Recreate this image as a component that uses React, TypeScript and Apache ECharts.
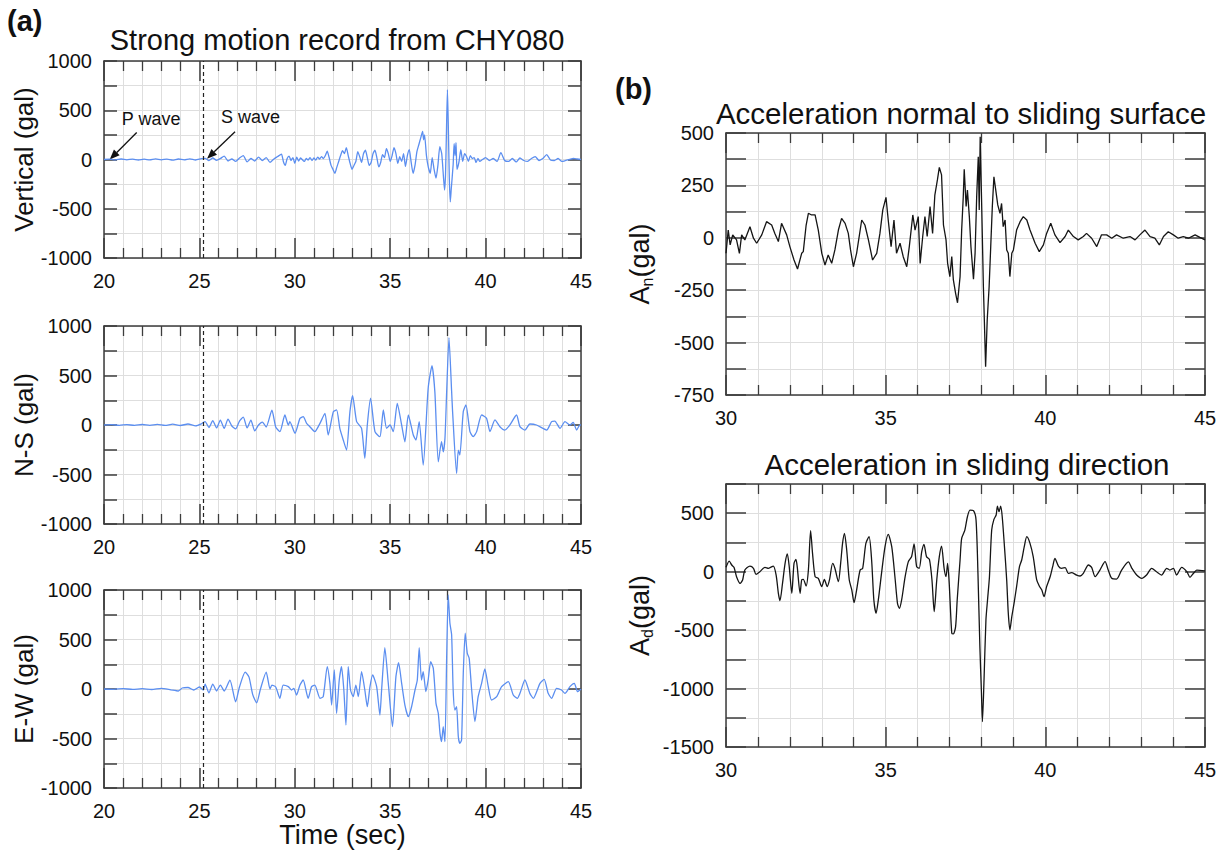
import React, { useEffect, useRef } from "react";
import * as echarts from "echarts";

// ---------- DATA ----------
const leftXRange = [20, 45];
const rightXRange = [30, 45];
const sWaveTime = 25.2;
const pArrowAt = [20.3, 0];
const sArrowAt = [25.4, 8];

const verticalTrace = [
  [20.0, 0], [20.3, 3], [20.6, -4], [20.9, 5], [21.2, -3], [21.5, 4], [21.8, -5], [22.1, 3], [22.4, -4], [22.7, 6],
  [23.0, -3], [23.3, 4], [23.6, -6], [23.9, 5], [24.2, -4], [24.5, 6], [24.8, -5], [25.1, 8], [25.3, 12], [25.5, -10],
  [25.7, 15], [25.9, -8], [26.1, 10], [26.3, 35], [26.5, -15], [26.7, 5], [26.9, -20], [27.1, 15], [27.3, 40], [27.5, -25],
  [27.7, 10], [27.9, -15], [28.1, 25], [28.3, -10], [28.5, 20], [28.7, -30], [28.9, 5], [29.1, 30], [29.3, 55], [29.4, -20],
  [29.5, -60], [29.6, 10], [29.7, 35], [29.8, -10], [29.9, 20], [30.0, -40], [30.1, 25], [30.2, -15], [30.3, 15], [30.5, -20],
  [30.6, 10], [30.7, -5], [30.8, 20], [30.9, -10], [31.0, 15], [31.1, -5], [31.2, 25], [31.3, 5], [31.4, 30], [31.5, 10],
  [31.6, 40], [31.7, 85], [31.8, 20], [31.9, -60], [32.0, -100], [32.1, -140], [32.2, -80], [32.3, -20], [32.4, 40], [32.5, 90],
  [32.6, 60], [32.7, 120], [32.8, 40], [32.9, -40], [33.0, -100], [33.1, -60], [33.2, -20], [33.3, 80], [33.4, 30], [33.5, -30],
  [33.6, 60], [33.7, 95], [33.8, 20], [33.9, -60], [34.0, -30], [34.1, 60], [34.2, 95], [34.3, 20], [34.4, -75], [34.5, -30],
  [34.6, 50], [34.7, 20], [34.8, 110], [34.9, 60], [35.0, -20], [35.1, 40], [35.2, 120], [35.3, 60], [35.4, -40], [35.5, 30],
  [35.6, -20], [35.7, 60], [35.8, -70], [35.9, 40], [36.0, 100], [36.1, -30], [36.2, -140], [36.3, -60], [36.4, 80], [36.5, 150],
  [36.6, 220], [36.7, 285], [36.75, 200], [36.8, 250], [36.9, 40], [37.0, -80], [37.1, -140], [37.2, 20], [37.3, -100], [37.4, -190],
  [37.5, -60], [37.6, 130], [37.7, 60], [37.8, -200], [37.85, -310], [37.9, -150], [37.95, 300], [38.0, 710], [38.05, 300], [38.1, -200],
  [38.15, -430], [38.2, -300], [38.3, -50], [38.35, 160], [38.4, 40], [38.45, 170], [38.5, -100], [38.6, -30], [38.7, 100], [38.8, -20],
  [38.9, 60], [39.0, 30], [39.1, -20], [39.2, 40], [39.3, 10], [39.4, 20], [39.5, -30], [39.6, 10], [39.7, -20], [39.8, -5],
  [40.0, 20], [40.2, -10], [40.4, 10], [40.6, -20], [40.8, 70], [41.0, -10], [41.2, -20], [41.4, 10], [41.6, -25], [41.8, 15],
  [42.0, -10], [42.2, -20], [42.4, 10], [42.6, 30], [42.8, -10], [43.0, 10], [43.2, 50], [43.4, -5], [43.6, -10], [43.8, 10],
  [44.0, -20], [44.2, -10], [44.4, 0], [44.6, 10], [44.8, 5], [45.0, 0],
];

const northSouthTrace = [
  [20.0, 0], [20.4, 3], [20.8, -3], [21.2, 4], [21.6, -4], [22.0, 5], [22.4, -3], [22.8, 6], [23.2, -4], [23.6, 8],
  [24.0, -5], [24.4, 10], [24.8, -8], [25.1, 12], [25.3, 35], [25.5, -25], [25.7, 45], [25.9, -30], [26.1, 50], [26.3, -35],
  [26.5, 60], [26.7, -10], [26.9, -40], [27.1, 40], [27.3, 80], [27.5, -30], [27.7, 50], [27.9, -60], [28.1, 0], [28.3, 30],
  [28.5, -20], [28.8, 150], [29.0, -20], [29.22, -67], [29.48, 101], [29.66, 0], [29.74, 34], [30.01, -84], [30.27, 67], [30.44, 84],
  [30.62, 17], [30.79, -17], [31.05, -67], [31.32, 17], [31.58, 118], [31.75, -101], [32.02, 135], [32.19, 152], [32.36, -34], [32.54, -152],
  [32.71, -253], [32.89, 135], [33.03, 297], [33.24, 34], [33.5, -34], [33.67, -337], [33.8, 0], [33.97, 270], [34.2, -67], [34.46, -118],
  [34.55, 0], [34.64, 152], [34.81, -34], [34.99, 0], [35.16, -67], [35.37, 219], [35.6, 0], [35.77, -169], [35.95, 101], [36.21, -101],
  [36.35, -152], [36.52, 34], [36.73, -404], [36.99, 371], [37.19, 600], [37.34, 337], [37.52, -371], [37.69, -169], [37.78, -270], [37.87, -135],
  [37.96, 337], [38.08, 883], [38.22, 337], [38.27, 135], [38.48, -489], [38.57, -253], [38.65, -303], [38.83, 135], [38.97, 202], [39.18, -67],
  [39.35, -118], [39.53, -67], [39.79, 101], [40.05, 67], [40.23, -67], [40.49, 51], [40.75, -17], [41.01, -51], [41.27, 0], [41.62, 101],
  [41.8, -17], [42.06, -51], [42.32, 10], [42.67, 0], [43.2, -51], [43.46, 34], [43.63, 40], [43.9, -34], [44.16, 34], [44.42, 0],
  [44.59, 27], [44.77, -51], [44.94, 0], [45.0, 0],
];

const eastWestTrace = [
  [20.0, 0], [20.5, -3], [21.0, 4], [21.5, -4], [22.0, 3], [22.5, -5], [23.0, 6], [23.5, -8], [23.9, -20], [24.1, 10],
  [24.4, 15], [24.7, -10], [25.0, 20], [25.2, -10], [25.3, 50], [25.5, -40], [25.7, 50], [25.9, -20], [26.1, 40], [26.3, -20],
  [26.6, 90], [26.9, -130], [27.1, 20], [27.4, 170], [27.6, 120], [27.8, -60], [28.0, -140], [28.2, 0], [28.5, 170], [28.7, 0],
  [28.8, 40], [29.0, 20], [29.22, -94], [29.39, 40], [29.66, 24], [29.83, -10], [29.95, 7], [30.09, -61], [30.27, 40], [30.44, 91],
  [30.7, -94], [30.88, 24], [31.05, 40], [31.32, -94], [31.49, -78], [31.7, 226], [31.84, 57], [31.93, -162], [32.07, 192], [32.19, -246],
  [32.33, 91], [32.45, 226], [32.57, -10], [32.68, -364], [32.8, 226], [32.92, -10], [33.06, -78], [33.2, 40], [33.33, -78], [33.5, 175],
  [33.67, -10], [33.8, -179], [33.94, 24], [34.08, 142], [34.29, 24], [34.46, -263], [34.55, -10], [34.72, 418], [34.9, 57], [35.12, -381],
  [35.3, 125], [35.44, 266], [35.6, 57], [35.77, -162], [35.95, -280], [36.12, -179], [36.3, -10], [36.42, 91], [36.52, 418], [36.64, 91],
  [36.73, 175], [36.87, -27], [36.99, 91], [37.12, 276], [37.26, 209], [37.4, -145], [37.52, -246], [37.61, -448], [37.69, -532], [37.78, -381],
  [37.87, -532], [37.96, 327], [38.04, 950], [38.13, 664], [38.22, 546], [38.3, -10], [38.39, -212], [38.48, -179], [38.57, -482], [38.65, -549],
  [38.74, -516], [38.83, 158], [38.93, 563], [39.04, 361], [39.14, 310], [39.27, -10], [39.44, -330], [39.61, -78], [39.79, 57], [39.96, 202],
  [40.14, 24], [40.31, -111], [40.58, -78], [40.84, 24], [41.19, 74], [41.45, -61], [41.66, -94], [41.8, -44], [42.06, 91], [42.32, -44],
  [42.5, -94], [42.85, 57], [43.07, 98], [43.28, -44], [43.46, -94], [43.72, 7], [43.98, -10], [44.16, -44], [44.42, 24], [44.65, 57],
  [44.82, -27], [44.94, -10], [45.0, 0],
];

const normalTrace = [
  [30.0, -74], [30.07, 37], [30.13, -34], [30.21, 14], [30.33, -10], [30.42, -74], [30.49, 14], [30.59, -10], [30.75, 53], [30.86, -2],
  [30.96, -26], [31.12, 14], [31.27, 77], [31.43, 61], [31.53, 21], [31.64, -18], [31.74, 69], [31.9, 14], [32.0, -42], [32.13, -106],
  [32.24, -149], [32.37, -74], [32.42, -66], [32.51, 61], [32.58, 117], [32.68, 109], [32.79, 109], [32.89, 37], [33.0, -74], [33.1, -130],
  [33.2, -82], [33.31, -122], [33.41, -58], [33.52, 37], [33.62, 93], [33.73, 69], [33.83, 21], [33.9, -58], [33.99, -138], [34.09, -74],
  [34.25, 85], [34.35, 61], [34.46, -10], [34.59, -106], [34.72, -74], [34.82, 21], [34.91, 133], [35.01, 193], [35.08, 85], [35.17, -42],
  [35.26, 85], [35.34, -74], [35.45, -26], [35.55, -90], [35.66, -138], [35.74, -42], [35.85, 109], [35.92, 37], [36.02, 101], [36.08, -122],
  [36.16, 6], [36.23, 101], [36.3, 6], [36.39, 149], [36.47, 21], [36.54, 204], [36.62, 276], [36.68, 336], [36.75, 300], [36.81, 61],
  [36.89, -10], [36.94, -122], [37.01, -185], [37.07, -90], [37.12, -201], [37.19, -265], [37.25, -310], [37.33, -185], [37.38, 37], [37.43, 196],
  [37.46, 327], [37.52, 149], [37.56, 228], [37.62, 101], [37.67, -42], [37.75, -198], [37.8, -74], [37.85, 196], [37.9, 387], [37.93, 133],
  [37.96, 482], [38.01, 133], [38.06, -233], [38.09, -392], [38.13, -615], [38.18, -392], [38.24, -233], [38.29, -42], [38.34, 149], [38.39, 291],
  [38.44, 236], [38.51, 157], [38.58, 117], [38.63, 164], [38.68, 53], [38.74, 85], [38.79, -58], [38.84, -74], [38.89, -185], [38.95, -74],
  [39.0, -58], [39.1, 37], [39.21, 77], [39.31, 101], [39.42, 85], [39.52, 37], [39.68, -26], [39.81, -66], [39.94, -34], [40.04, 21],
  [40.17, 69], [40.3, 14], [40.46, -23], [40.62, 6], [40.72, 37], [40.88, 6], [41.03, -10], [41.19, 6], [41.29, 21], [41.45, -2],
  [41.61, -42], [41.76, 14], [41.92, 14], [42.08, -2], [42.23, 14], [42.44, -2], [42.65, 6], [42.81, -10], [42.96, 14], [43.12, 37],
  [43.28, 6], [43.43, -2], [43.57, -34], [43.7, 6], [43.85, 29], [44.01, 14], [44.16, -2], [44.32, 6], [44.48, -2], [44.69, 14],
  [44.84, 2], [45.0, -10],
];

const slidingTrace = [
  [30.0, 37], [30.1, 91], [30.18, 57], [30.25, 37], [30.33, -43], [30.44, -100], [30.52, -71], [30.59, 14], [30.75, 48], [30.86, 29],
  [30.94, -23], [31.06, 0], [31.22, 37], [31.33, 29], [31.48, 48], [31.57, -29], [31.64, -185], [31.69, -248], [31.77, -100], [31.85, 71],
  [31.92, 151], [31.98, 43], [32.06, -185], [32.13, 71], [32.19, 105], [32.23, 43], [32.32, -185], [32.37, -71], [32.42, -66], [32.51, -123],
  [32.58, 14], [32.65, 351], [32.71, 157], [32.79, -43], [32.89, -57], [33.0, -128], [33.08, -66], [33.17, -128], [33.24, -71], [33.34, 71],
  [33.41, 29], [33.52, -86], [33.59, 71], [33.65, 242], [33.71, 328], [33.78, 185], [33.86, -71], [33.94, -157], [34.01, -265], [34.09, -157],
  [34.2, 14], [34.28, 29], [34.38, 242], [34.48, 299], [34.56, 100], [34.63, -242], [34.7, -356], [34.77, -242], [34.87, -14], [34.98, 214],
  [35.08, 319], [35.19, 214], [35.29, -43], [35.37, -271], [35.43, -314], [35.5, -242], [35.61, -43], [35.71, 86], [35.81, 128], [35.89, 237],
  [35.97, 43], [36.05, 29], [36.13, 171], [36.2, 234], [36.28, 128], [36.37, 105], [36.45, -71], [36.52, -342], [36.6, -71], [36.68, 128],
  [36.75, 219], [36.83, 29], [36.89, -43], [36.94, 71], [36.99, -100], [37.07, -527], [37.12, -533], [37.19, -470], [37.24, -242], [37.33, 100],
  [37.38, 285], [37.48, 356], [37.56, 470], [37.64, 527], [37.75, 522], [37.83, 442], [37.89, -14], [37.95, -641], [38.0, -1040], [38.03, -1283],
  [38.08, -926], [38.14, -413], [38.19, -242], [38.25, -43], [38.32, 356], [38.39, 447], [38.46, 485], [38.5, 561], [38.55, 513], [38.6, 561],
  [38.65, 470], [38.72, 214], [38.79, -71], [38.84, -356], [38.89, -499], [38.95, -385], [39.02, -271], [39.1, -128], [39.19, 43], [39.26, 100],
  [39.34, 214], [39.42, 299], [39.52, 242], [39.62, 128], [39.73, -71], [39.81, -123], [39.89, -157], [39.96, -214], [40.04, -128], [40.15, -43],
  [40.23, 43], [40.3, 114], [40.41, 48], [40.51, 29], [40.62, 34], [40.72, -14], [40.82, -9], [40.98, -29], [41.09, -37], [41.19, -14],
  [41.35, 57], [41.45, 37], [41.56, -43], [41.71, 14], [41.87, 86], [41.97, 14], [42.08, -57], [42.23, -63], [42.39, 14], [42.6, 83],
  [42.71, 29], [42.86, -29], [43.02, -57], [43.17, -29], [43.33, 29], [43.48, 0], [43.64, -29], [43.8, 29], [43.9, 14], [44.01, 29],
  [44.11, -29], [44.27, 37], [44.43, 0], [44.53, -48], [44.64, -14], [44.74, 14], [45.0, 6],
];

// ---------- STYLE / LAYOUT ----------
const FONT = "'Liberation Sans', Arial, Helvetica, sans-serif";
const FRAME = "#3c3c3c";
const GRIDC = "#dedede";
const BLUE = "#5b8ef0";
const BLACK = "#151515";

const grids = [
  { left: 104, top: 61, width: 477, height: 197 },
  { left: 104, top: 326, width: 477, height: 198 },
  { left: 104, top: 590, width: 477, height: 198 },
  { left: 726, top: 133, width: 479, height: 262 },
  { left: 726, top: 484, width: 479, height: 263 },
];

function xPair(gridIndex: number, range: number[], extra: any = {}) {
  const common = {
    type: "value",
    gridIndex,
    min: range[0],
    max: range[1],
    interval: 5,
    axisLine: { onZero: false, lineStyle: { color: FRAME, width: 1.5 } },
    axisTick: { inside: true, length: 20, lineStyle: { color: FRAME, width: 1.5 } },
    minorTick: { show: true, splitNumber: 5, length: 10, lineStyle: { color: FRAME, width: 1.3 } },
  };
  return [
    {
      ...common,
      position: "bottom",
      splitLine: { show: true, lineStyle: { color: GRIDC, width: 1 } },
      minorSplitLine: { show: true, lineStyle: { color: GRIDC, width: 1 } },
      axisLabel: { margin: 13, fontSize: 20, color: "#111", fontFamily: FONT },
      ...extra,
    },
    {
      ...common,
      position: "top",
      splitLine: { show: false },
      minorSplitLine: { show: false },
      axisLabel: { show: false },
    },
  ];
}

function yPair(gridIndex: number, min: number, max: number, interval: number, labelStep: number, tickLen: number, name: any, nameStyle: any, nameGap: number) {
  const common = {
    type: "value",
    gridIndex,
    min,
    max,
    interval,
    axisLine: { onZero: false, lineStyle: { color: FRAME, width: 1.5 } },
    axisTick: { inside: true, length: tickLen, lineStyle: { color: FRAME, width: 1.5 } },
  };
  return [
    {
      ...common,
      position: "left",
      splitLine: { show: true, lineStyle: { color: GRIDC, width: 1 } },
      axisLabel: {
        margin: 12,
        fontSize: 20,
        color: "#111",
        fontFamily: FONT,
        formatter: (v: number) => (Math.abs(v % labelStep) < 1e-6 ? String(v) : ""),
      },
      name,
      nameLocation: "middle",
      nameGap,
      nameTextStyle: nameStyle,
    },
    {
      ...common,
      position: "right",
      splitLine: { show: false },
      axisLabel: { show: false },
    },
  ];
}

const leftName = { fontSize: 26, color: "#111", fontFamily: FONT };
const richName = {
  color: "#111",
  fontFamily: FONT,
  rich: {
    a: { fontSize: 27, color: "#111", fontFamily: FONT },
    s: { fontSize: 16, color: "#111", fontFamily: FONT, padding: [14, 0, 0, 0] },
  },
};

export default function App() {
  const ref = useRef<HTMLDivElement>(null);
  useEffect(() => {
    document.body.style.margin = "0";
    const chart = echarts.init(ref.current!, null, { renderer: "svg" });

    const xAxis = [
      ...xPair(0, leftXRange),
      ...xPair(1, leftXRange),
      ...xPair(2, leftXRange, {
        name: "Time (sec)",
        nameLocation: "middle",
        nameGap: 33,
        nameTextStyle: { fontSize: 27, color: "#111", fontFamily: FONT },
      }),
      ...xPair(3, rightXRange),
      ...xPair(4, rightXRange),
    ];
    const yAxis = [
      ...yPair(0, -1000, 1000, 250, 500, 13, "Vertical (gal)", leftName, 67),
      ...yPair(1, -1000, 1000, 250, 500, 13, "N-S (gal)", leftName, 67),
      ...yPair(2, -1000, 1000, 250, 500, 13, "E-W (gal)", leftName, 67),
      ...yPair(3, -750, 500, 125, 250, 20, "{a|A}{s|n}{a|(gal)}", richName, 71),
      ...yPair(4, -1500, 750, 250, 500, 20, "{a|A}{s|d}{a|(gal)}", richName, 71),
    ];

    const sMark = {
      silent: true,
      symbol: ["none", "none"],
      label: { show: false },
      lineStyle: { type: [4, 3], color: "#222", width: 1.2 },
      data: [{ xAxis: sWaveTime }],
    };

    const leftSeries = [verticalTrace, northSouthTrace, eastWestTrace].map((d, i) => ({
      type: "line",
      xAxisIndex: i * 2,
      yAxisIndex: i * 2,
      data: d,
      showSymbol: false,
      smooth: 0.2,
      lineStyle: { color: BLUE, width: 1.3 },
      markLine: sMark,
      z: 3,
    }));
    const rightSeries = [normalTrace, slidingTrace].map((d, i) => ({
      type: "line",
      xAxisIndex: (i + 3) * 2,
      yAxisIndex: (i + 3) * 2,
      data: d,
      showSymbol: false,
      smooth: i === 1 ? 0.25 : 0,
      lineStyle: { color: BLACK, width: 1.3 },
      z: 3,
    }));

    chart.setOption({
      animation: false,
      backgroundColor: "#ffffff",
      textStyle: { fontFamily: FONT },
      grid: grids.map((g) => ({ ...g, containLabel: false })),
      xAxis,
      yAxis,
      series: [...leftSeries, ...rightSeries],
    });

    const arrow = (tip: number[], dx: number, dy: number) => {
      const tail = [tip[0] + dx, tip[1] + dy];
      const len = Math.hypot(dx, dy);
      const ux = -dx / len;
      const uy = -dy / len;
      const bx = tip[0] - ux * 10;
      const by = tip[1] - uy * 10;
      const nx = -uy;
      const ny = ux;
      return [
        { type: "line", shape: { x1: tail[0], y1: tail[1], x2: bx, y2: by }, style: { stroke: "#111", lineWidth: 1.3 } },
        {
          type: "polygon",
          shape: { points: [[tip[0], tip[1]], [bx + nx * 4, by + ny * 4], [bx - nx * 4, by - ny * 4]] },
          style: { fill: "#111" },
        },
      ];
    };

    const pTip = chart.convertToPixel({ gridIndex: 0 }, pArrowAt) as number[];
    const sTip = chart.convertToPixel({ gridIndex: 0 }, sArrowAt) as number[];

    const txt = (text: string, x: number, y: number, size: number, align = "center", weight = "normal") => ({
      type: "text",
      x,
      y,
      style: {
        text,
        fill: "#111",
        font: `${weight} ${size}px ${FONT}`,
        textAlign: align,
        textVerticalAlign: "middle",
      },
    });

    chart.setOption({
      graphic: [
        txt("(a)", 7, 21, 29, "left", "bold"),
        txt("Strong motion record from CHY080", 337, 40, 29),
        txt("(b)", 615, 89, 29, "left", "bold"),
        txt("Acceleration normal to sliding surface", 961, 113, 29.5),
        txt("Acceleration in sliding direction", 967, 464, 29.5),
        txt("P wave", pTip[0] + 12, pTip[1] - 41, 18, "left"),
        txt("S wave", sTip[0] + 14, sTip[1] - 42, 18, "left"),
        ...arrow(pTip, 27, -27),
        ...arrow(sTip, 28, -27),
      ],
    });

    return () => chart.dispose();
  }, []);

  return <div ref={ref} style={{ width: 1222, height: 855 }} />;
}
